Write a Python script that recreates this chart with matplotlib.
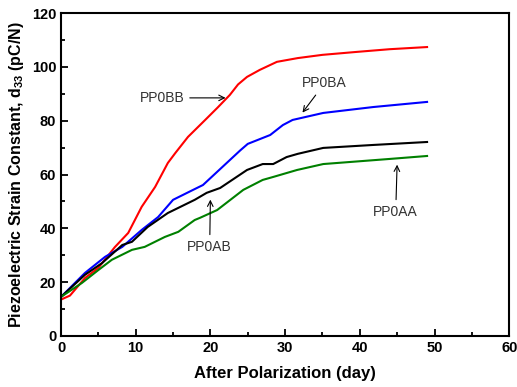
import matplotlib
matplotlib.use('Agg')
import matplotlib.pyplot as plt
from matplotlib.ticker import MultipleLocator

plt.rcParams['font.family'] = ['Liberation Sans', 'DejaVu Sans']
plt.rcParams['mathtext.default'] = 'regular'

# データ
days_bb = [0, 1.2, 3.2, 5, 7.2, 9, 10.8, 12.6, 14.3, 15.3, 17, 19.3, 21, 22.6, 23.7, 24.9, 26.6, 28.9, 31.7, 35, 39.6, 44, 49]
pp0bb = [13.5, 15, 21.5, 25.3, 33, 38.3, 48, 55.4, 64.3, 68, 74, 80.3, 85, 89.6, 93.5, 96.3, 98.9, 101.9, 103.3, 104.5, 105.6, 106.6, 107.4]

days_ba = [0, 3.2, 5.9, 8.2, 10.8, 13, 15, 17.9, 19, 20.9, 24, 25, 28, 29.7, 31, 35.1, 41.8, 49]
pp0ba = [14.5, 23.4, 29.4, 33.1, 39.4, 44.2, 50.6, 54.6, 56.1, 61, 69, 71.4, 74.7, 78.4, 80.3, 82.9, 85.1, 87]

days_ab = [0, 3.2, 5.5, 8.2, 9.5, 11.6, 14.3, 17.9, 19.5, 21.3, 24.9, 27, 28.4, 30.2, 31.7, 35.1, 41.8, 49]
pp0ab = [14.5, 22.7, 27.1, 33.8, 35, 40.5, 45.7, 50.6, 53.2, 55, 61.7, 63.9, 63.9, 66.5, 67.7, 69.9, 71, 72.1]

days_aa = [0, 2.8, 5, 6.8, 9.5, 11.2, 13.9, 15.7, 17.9, 18.6, 20.9, 24.4, 27, 28.4, 31.6, 35.1, 44, 49]
pp0aa = [14.5, 19.7, 24.5, 28.3, 32, 33.1, 36.8, 38.7, 43.1, 43.9, 46.8, 54.3, 58, 59.1, 61.7, 63.9, 65.8, 66.9]

fig = plt.figure(figsize=(5.17, 3.87), dpi=100)
ax = fig.add_axes([0.118, 0.132, 0.867, 0.834])

ax.plot(days_bb, pp0bb, color='#ff0000', lw=1.5)
ax.plot(days_ba, pp0ba, color='#0000ff', lw=1.5)
ax.plot(days_ab, pp0ab, color='#000000', lw=1.5)
ax.plot(days_aa, pp0aa, color='#008000', lw=1.5)

ax.set_xlim(0, 60)
ax.set_ylim(0, 120)
ax.xaxis.set_major_locator(MultipleLocator(10))
ax.xaxis.set_minor_locator(MultipleLocator(5))
ax.yaxis.set_major_locator(MultipleLocator(20))
ax.yaxis.set_minor_locator(MultipleLocator(10))
ax.tick_params(which='both', direction='in', width=1.3, labelsize=10.5)
ax.tick_params(which='major', length=5)
ax.tick_params(which='minor', length=3)
for lab in ax.get_xticklabels() + ax.get_yticklabels():
    lab.set_fontweight('bold')
for s in ax.spines.values():
    s.set_linewidth(1.5)

ax.set_xlabel('After Polarization (day)', fontsize=12, fontweight='bold', labelpad=8)
ax.set_ylabel('Piezoelectric Strain Constant, d$_{33}$ (pC/N)', fontsize=11.5, fontweight='bold')

# 注釈
arrow = dict(arrowstyle='->', color='black', lw=0.8)
txt = dict(fontsize=10, color='#333333', ha='center', va='center')
ax.annotate('PP0BB', xy=(22.4, 88.5), xytext=(13.5, 88.5), arrowprops=arrow, **txt)
ax.annotate('PP0BA', xy=(32.1, 82.2), xytext=(35.3, 94), arrowprops=arrow, **txt)
ax.annotate('PP0AB', xy=(20, 51.7), xytext=(19.9, 33), arrowprops=arrow, **txt)
ax.annotate('PP0AA', xy=(45, 64.7), xytext=(44.8, 46), arrowprops=arrow, **txt)

fig.savefig('out.png', dpi=100)
